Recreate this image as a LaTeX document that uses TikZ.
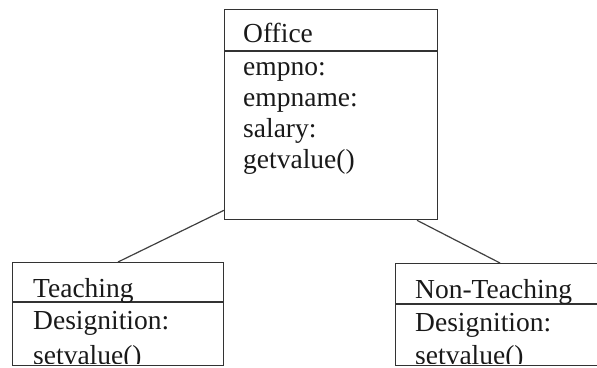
\documentclass[tikz,border=0pt]{standalone}
\usepackage{fontspec}
\setmainfont{Liberation Serif}
\usetikzlibrary{calc}
\begin{document}
\begin{tikzpicture}[x=1pt,y=-1pt,
  umlbox/.style={draw=black!80, line width=1.3pt, fill=none, rectangle, inner sep=0pt, anchor=north west},
  rule/.style={draw=black!80, line width=1.3pt},
  link/.style={draw=black!75, line width=1.2pt},
  txt/.style={anchor=base west, inner sep=0pt, text=black!90, font=\fontsize{27.5}{31}\selectfont}]
\useasboundingbox (0,0) rectangle (597,367);
\clip (0,0) rectangle (597,367);

% class boxes
\node[umlbox, minimum width=213pt, minimum height=210pt] (office) at (224,9) {};
\node[umlbox, minimum width=211pt, minimum height=103pt] (teach) at (12,262) {};
\node[umlbox, minimum width=230pt, minimum height=102pt] (nonteach) at (395,263) {};

% compartment rules
\draw[rule] (224,51) -- (437,51);
\draw[rule] (12,302) -- (223,302);
\draw[rule] (395,304) -- (625,304);

% Office class
\node[txt] (oname) at (243,42) {Office};
\node[txt] (oa1) at (243,75) {empno:};
\node[txt] (oa2) at (243,106) {empname:};
\node[txt] (oa3) at (243,137) {salary:};
\node[txt] (oa4) at (243,168) {getvalue()};

% subclasses, operations cut by the lower edge
\node[txt] (tname) at (33,297) {Teaching};
\node[txt] (ntname) at (415,298) {Non-Teaching};
\begin{scope}
  \clip (0,0) rectangle (597,363);
  \node[txt] (ta1) at (33,329) {Designition:};
  \node[txt] (ta2) at (33,364) {setvalue()};
  \node[txt] (nta1) at (415,331) {Designition:};
  \node[txt] (nta2) at (415,364) {setvalue()};
\end{scope}

% generalisation links
\draw[link] ($(office.south west)+(0,-10)$) -- ($(teach.north west)+(106,0)$);
\draw[link] ($(office.south west)+(193,0)$) -- ($(nonteach.north west)+(105,0)$);
\end{tikzpicture}
\end{document}
